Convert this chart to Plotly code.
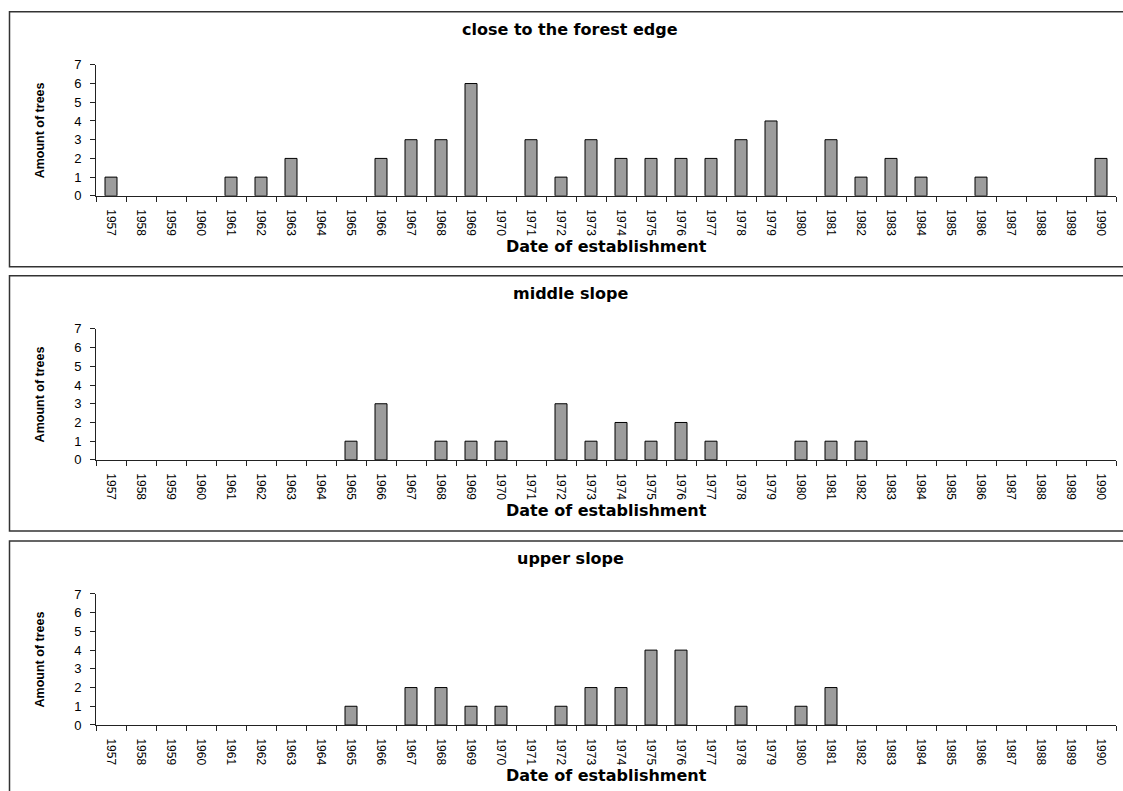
import plotly.graph_objects as go

years = [str(y) for y in range(1957, 1991)]

panel_titles = ["close to the forest edge", "middle slope", "upper slope"]
x_title = "Date of establishment"
y_title = "Amount of trees"

forest_edge = [1, 0, 0, 0, 1, 1, 2, 0, 0, 2, 3, 3, 6, 0, 3, 1, 3, 2, 2, 2, 2, 3, 4, 0,
               3, 1, 2, 1, 0, 1, 0, 0, 0, 2]
middle_slope = [0, 0, 0, 0, 0, 0, 0, 0, 1, 3, 0, 1, 1, 1, 0, 3, 1, 2, 1, 2, 1, 0, 0, 1,
                1, 1, 0, 0, 0, 0, 0, 0, 0, 0]
upper_slope = [0, 0, 0, 0, 0, 0, 0, 0, 1, 0, 2, 2, 1, 1, 0, 1, 2, 2, 4, 4, 0, 1, 0, 1,
               2, 0, 0, 0, 0, 0, 0, 0, 0, 0]

series = [forest_edge, middle_slope, upper_slope]
y_ticks = [0, 1, 2, 3, 4, 5, 6, 7]

W, H = 1123, 800
Y_OFF, Y_SCALE = 7.2, 0.981
FONT = "Liberation Sans, Arial, sans-serif"
TITLE_FONT = "DejaVu Sans, Liberation Sans, sans-serif"


def px(v):
    return v / W


def py(v):
    return 1 - ((v - Y_OFF) / Y_SCALE) / H


box_tops = [12, 276, 541]
box_h = 255

fig = go.Figure()
layout = dict(
    width=W, height=H,
    margin=dict(l=0, r=0, t=0, b=0),
    paper_bgcolor="white", plot_bgcolor="white",
    showlegend=False,
    bargap=0.6,
    font=dict(family=FONT, color="black"),
)
shapes = []
annotations = []

for i, (vals, title) in enumerate(zip(series, panel_titles)):
    top = box_tops[i]
    zero_px = top + 184
    seven_px = top + 53
    sfx = "" if i == 0 else str(i + 1)
    fig.add_trace(go.Bar(
        x=years, y=vals,
        xaxis="x" + sfx, yaxis="y" + sfx,
        marker=dict(color="#9c9c9c",
                    line=dict(color="black", width=[1 if v > 0 else 0 for v in vals])),
        hoverinfo="x+y",
    ))
    layout["xaxis" + sfx] = dict(
        type="category", domain=[px(96), px(1116)], anchor="y" + sfx,
        showline=True, linecolor="#222", linewidth=1,
        ticks="outside", tickson="boundaries", ticklen=5, tickcolor="#222",
        tickangle=90, tickfont=dict(size=12, family=FONT),
        ticklabelstandoff=10,
        showgrid=False, zeroline=False, fixedrange=True,
    )
    layout["yaxis" + sfx] = dict(
        domain=[py(zero_px), py(seven_px)], anchor="x" + sfx,
        range=[0, 7], tickvals=y_ticks,
        showline=True, linecolor="#222", linewidth=1,
        ticks="outside", ticklen=5, tickcolor="#222",
        tickfont=dict(size=13, family=FONT),
        ticklabelstandoff=6,
        showgrid=False, zeroline=False, fixedrange=True,
    )
    shapes.append(dict(
        type="rect", xref="paper", yref="paper",
        x0=px(9.5), x1=px(1135), y0=py(top), y1=py(top + box_h),
        line=dict(color="#333", width=1.5), fillcolor="rgba(0,0,0,0)",
    ))
    annotations.append(dict(
        text="<b>%s</b>" % title, xref="paper", yref="paper",
        x=px(570), y=py(top + 18), xanchor="center", yanchor="middle",
        showarrow=False, font=dict(size=16, family=TITLE_FONT),
    ))
    annotations.append(dict(
        text="<b>%s</b>" % x_title, xref="paper", yref="paper",
        x=px(606), y=py(top + 235), xanchor="center", yanchor="middle",
        showarrow=False, font=dict(size=16, family=TITLE_FONT),
    ))
    annotations.append(dict(
        text="<b>%s</b>" % y_title, xref="paper", yref="paper",
        x=px(40), y=py((zero_px + seven_px) / 2), xanchor="center", yanchor="middle",
        textangle=-90, showarrow=False, font=dict(size=12.5, family=FONT),
    ))

layout["shapes"] = shapes
layout["annotations"] = annotations
fig.update_layout(**layout)

post = (
    "document.body.style.margin='0';"
    "document.body.style.overflow='hidden';"
)
fig.write_html("out.html", config={"displayModeBar": False}, post_script=post)
